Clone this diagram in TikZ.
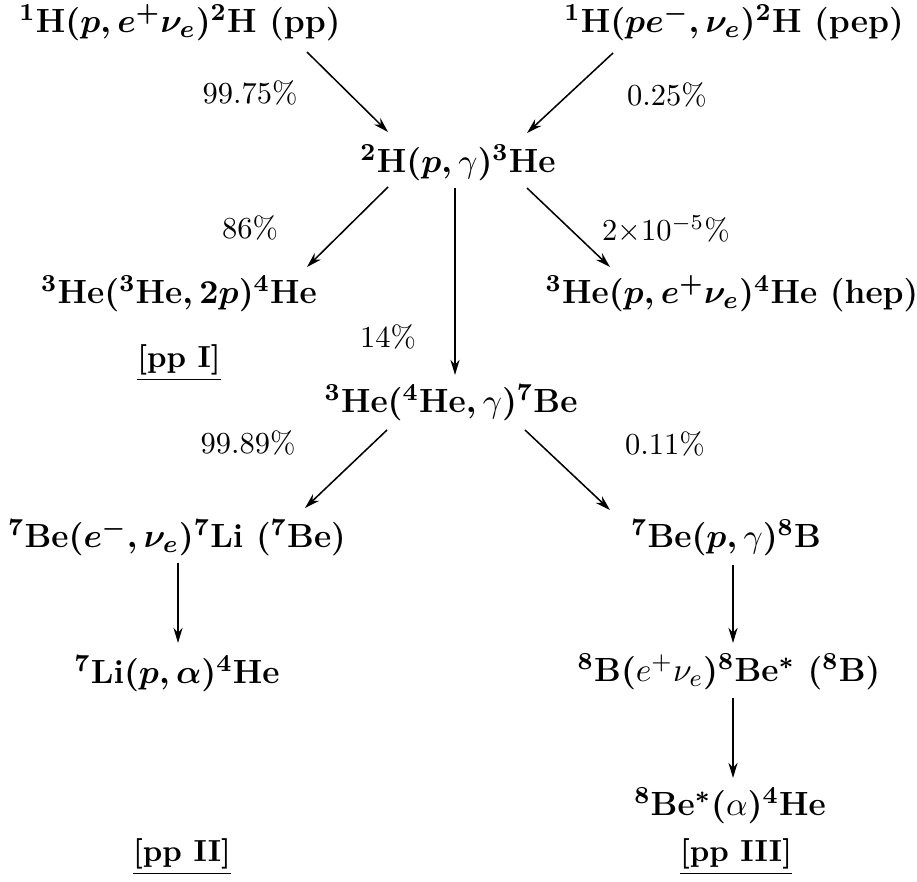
\documentclass[tikz,border=0pt]{standalone}
\usepackage{tikz}
\usetikzlibrary{arrows.meta,calc}

\newcommand{\ngam}{\mbox{\unboldmath$\gamma$}}
\newcommand{\nmath}[1]{\mbox{\unboldmath$#1$}}

\begin{document}
\begin{tikzpicture}[x=0.328pt, y=-0.328pt,
    rx/.style={font=\fontsize{11}{13}\selectfont\bfseries\boldmath, inner sep=0pt},
    pct/.style={font=\normalsize, inner sep=0pt},
    chain/.style={font=\normalsize\bfseries, inner sep=0pt},
    arr/.style={line width=0.5pt, -{Stealth[length=5pt,width=3pt]}}]

    \useasboundingbox (0,0) rectangle (917,881);

    % Awal rantai
    \node[rx] (pp)  at (180,23) {$^1$H$(p,e^+\nu_e)^2$H (pp)};
    \node[rx] (pep) at (734,23) {$^1$H$(pe^-,\nu_e)^2$H (pep)};
    \node[rx] (h2)  at (458,163) {$^2$H$(p,\ngam)^3$He};

    % Cabang pp I dan hep
    \node[rx] (he3) at (179,294) {$^3$He$(^3$He$,2p)^4$He};
    \node[rx] (hep) at (732,294) {$^3$He$(p,e^+\nu_e)^4$He (hep)};
    \node[chain] (ppI) at (179,363) {\underline{[pp I]}};

    % Be-7
    \node[rx] (be7) at (451,403) {$^3$He$(^4$He$,\ngam)^7$Be};

    % Cabang pp II
    \node[rx] (be7e) at (177,538) {$^7$Be$(e^-,\nu_e)^7$Li ($^7$Be)};
    \node[rx] (li7)  at (177,674) {$^7$Li$(p,\alpha)^4$He};
    \node[chain] (ppII) at (182,857) {\underline{[pp II]}};

    % Cabang pp III
    \node[rx] (b8)  at (726,538) {$^7$Be$(p,\ngam)^8$B};
    \node[rx] (b8d) at (729,672) {$^8$B$(\nmath{e^+\nu_e})^8$Be$^*$ ($^8$B)};
    \node[rx] (be8) at (730,806) {$^8$Be$^*(\nmath{\alpha})^4$He};
    \node[chain] (ppIII) at (736,857) {\underline{[pp III]}};

    % Persentase
    \node[pct] (p1) at (250,93)  {99.75\%};
    \node[pct] (p2) at (667,95)  {0.25\%};
    \node[pct] (p3) at (250,228) {86\%};
    \node[pct] (p4) at (666,229) {$2{\times}10^{-5}$\%};
    \node[pct] (p5) at (388,337) {14\%};
    \node[pct] (p6) at (248,443) {99.89\%};
    \node[pct] (p7) at (665,444) {0.11\%};

    % Panah
    \draw[arr] ($(pp)+(127,29)$) -- ($(h2)+(-70,-31)$);
    \draw[arr] ($(pep)+(-121,30)$) -- ($(h2)+(69,-30)$);
    \draw[arr] ($(h2)+(-70,24)$) -- ($(he3)+(128,-27)$);
    \draw[arr] ($(h2)+(69,25)$) -- ($(hep)+(-122,-27)$);
    \draw[arr] ($(h2)+(-3,25)$) -- ($(be7)+(4,-28)$);
    \draw[arr] ($(be7)+(-64,27)$) -- ($(be7e)+(128,-30)$);
    \draw[arr] ($(be7)+(74,27)$) -- ($(b8)+(-116,-28)$);
    \draw[arr] ($(be7e)+(1,25)$) -- ($(li7)+(1,-31)$);
    \draw[arr] ($(b8)+(7,27)$) -- ($(b8d)+(4,-29)$);
    \draw[arr] ($(b8d)+(4,26)$) -- ($(be8)+(3,-28)$);
\end{tikzpicture}
\end{document}
